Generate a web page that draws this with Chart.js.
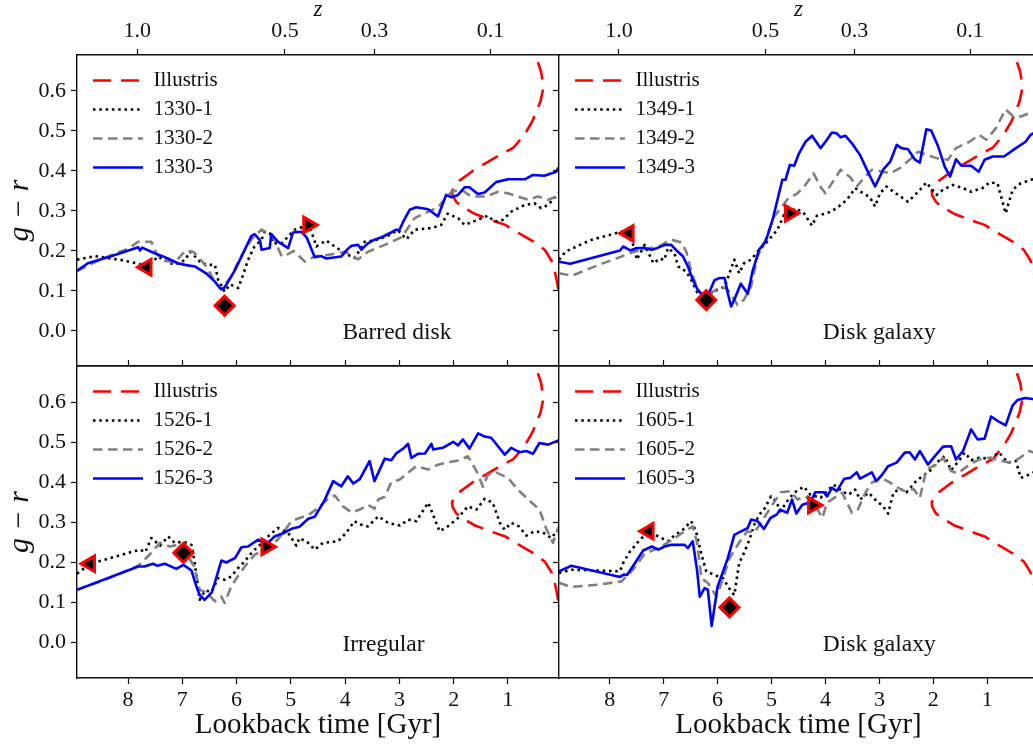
<!DOCTYPE html>
<html>
<head>
<meta charset="utf-8">
<title>g - r colour vs lookback time</title>
<script src="https://cdn.jsdelivr.net/npm/chart.js@4.4.1/dist/chart.umd.min.js"></script>
<style>
  html, body { margin: 0; padding: 0; background: #fff; }
  #wrap { position: relative; width: 1033px; height: 744px; overflow: hidden; background: #fff; }
  #wrap canvas { position: absolute; left: 0; top: 0; }
</style>
</head>
<body>
<div id="wrap">
  <canvas id="c1330" width="1050" height="744"></canvas>
  <canvas id="c1349" width="1050" height="744"></canvas>
  <canvas id="c1526" width="1050" height="744"></canvas>
  <canvas id="c1605" width="1050" height="744"></canvas>
</div>
<script>
// ---- axis ticks ----
const lookbackTicks = [8, 7, 6, 5, 4, 3, 2, 1];
const colourTicks = [0, 0.1, 0.2, 0.3, 0.4, 0.5, 0.6];
const redshiftAt = [7.83, 5.11, 3.46, 1.32];     // lookback time [Gyr] of each z tick
const redshiftText = ['1.0', '0.5', '0.3', '0.1'];

// ---- Illustris reference contour (same in every panel) ----
const illustris = [
  [0.45, 0.672], [0.39, 0.648], [0.36, 0.622], [0.36, 0.600], [0.40, 0.575], [0.47, 0.550],
  [0.56, 0.522], [0.70, 0.490], [0.90, 0.458], [1.15, 0.440], [1.40, 0.420], [1.60, 0.405],
  [1.75, 0.390], [1.90, 0.375], [1.99, 0.362], [2.03, 0.350], [2.02, 0.338], [1.95, 0.322],
  [1.85, 0.311], [1.62, 0.293], [1.33, 0.278], [1.05, 0.265], [0.81, 0.245], [0.53, 0.223],
  [0.32, 0.202], [0.20, 0.176], [0.14, 0.150], [0.10, 0.125], [0.07, 0.100]
];

// ---- 1330 (barred disk) ----
const g1330_1 = [
  [8.94, 0.178], [8.61, 0.187], [8.12, 0.177], [7.84, 0.169], [7.66, 0.160], [7.54, 0.173], [7.45, 0.186],
  [7.32, 0.176], [7.14, 0.165], [6.95, 0.177], [6.86, 0.198], [6.78, 0.188], [6.65, 0.169], [6.49, 0.165],
  [6.40, 0.165], [6.34, 0.128], [6.22, 0.098], [6.12, 0.116], [5.97, 0.107], [5.88, 0.140], [5.79, 0.177],
  [5.67, 0.211], [5.54, 0.228], [5.48, 0.248], [5.39, 0.244], [5.33, 0.219], [5.17, 0.219], [5.05, 0.236],
  [4.93, 0.253], [4.84, 0.257], [4.70, 0.265], [4.62, 0.248], [4.53, 0.211], [4.35, 0.226], [4.19, 0.211],
  [4.01, 0.194], [3.82, 0.182], [3.64, 0.223], [3.46, 0.226], [3.21, 0.238], [3.03, 0.252], [2.87, 0.229],
  [2.72, 0.253], [2.41, 0.257], [2.23, 0.265], [2.11, 0.293], [1.92, 0.282], [1.80, 0.265], [1.55, 0.278],
  [1.37, 0.288], [1.25, 0.273], [1.09, 0.278], [0.94, 0.298], [0.69, 0.315], [0.51, 0.319], [0.39, 0.307],
  [0.26, 0.315], [0.06, 0.345]
];
const g1330_2 = [
  [8.94, 0.150], [8.60, 0.172], [8.30, 0.190], [8.00, 0.205], [7.81, 0.223], [7.57, 0.223], [7.48, 0.194],
  [7.38, 0.178], [7.14, 0.170], [6.95, 0.200], [6.80, 0.198], [6.68, 0.181], [6.56, 0.161], [6.40, 0.123],
  [6.28, 0.103], [6.10, 0.136], [5.92, 0.186], [5.73, 0.228], [5.54, 0.253], [5.42, 0.244], [5.30, 0.228],
  [5.17, 0.186], [5.05, 0.192], [4.95, 0.200], [4.74, 0.173], [4.56, 0.186], [4.31, 0.190], [4.00, 0.198],
  [3.76, 0.179], [3.58, 0.198], [3.27, 0.215], [2.96, 0.234], [2.72, 0.282], [2.47, 0.298], [2.29, 0.309],
  [2.04, 0.348], [1.86, 0.353], [1.68, 0.336], [1.40, 0.336], [1.18, 0.348], [1.00, 0.344], [0.63, 0.328],
  [0.45, 0.336], [0.26, 0.328], [0.06, 0.338]
];
const g1330_3 = [
  [8.94, 0.150], [8.74, 0.169], [8.30, 0.187], [7.81, 0.209], [7.78, 0.201], [7.74, 0.208], [7.51, 0.194],
  [7.32, 0.184], [7.08, 0.169], [6.95, 0.165], [6.77, 0.161], [6.56, 0.144], [6.40, 0.123], [6.31, 0.107],
  [6.25, 0.104], [6.19, 0.115], [6.03, 0.152], [5.88, 0.194], [5.73, 0.237], [5.67, 0.242], [5.57, 0.227],
  [5.54, 0.203], [5.39, 0.207], [5.36, 0.242], [5.24, 0.223], [5.05, 0.207], [4.96, 0.246], [4.81, 0.248],
  [4.71, 0.234], [4.56, 0.184], [4.44, 0.187], [4.35, 0.181], [4.07, 0.186], [3.95, 0.205], [3.88, 0.213],
  [3.76, 0.215], [3.70, 0.203], [3.58, 0.219], [3.46, 0.228], [3.33, 0.234], [3.15, 0.246], [3.06, 0.253],
  [3.00, 0.252], [2.93, 0.273], [2.81, 0.303], [2.69, 0.309], [2.47, 0.304], [2.29, 0.286], [2.14, 0.340],
  [2.04, 0.334], [1.92, 0.340], [1.80, 0.359], [1.71, 0.359], [1.55, 0.342], [1.43, 0.346], [1.22, 0.372],
  [1.00, 0.379], [0.69, 0.379], [0.54, 0.390], [0.33, 0.388], [0.11, 0.398], [0.06, 0.410]
];
const marks1330 = [[7.66, 0.159], [6.22, 0.063], [4.68, 0.265]];

// ---- 1349 (disk galaxy) ----
const g1349_1 = [
  [8.94, 0.178], [8.82, 0.198], [8.55, 0.215], [8.33, 0.228], [7.78, 0.248], [7.65, 0.244], [7.53, 0.203],
  [7.50, 0.178], [7.35, 0.215], [7.19, 0.169], [7.07, 0.181], [6.99, 0.177], [6.92, 0.207], [6.80, 0.194],
  [6.73, 0.161], [6.58, 0.148], [6.49, 0.128], [6.37, 0.094], [6.27, 0.061], [6.12, 0.094], [6.00, 0.103],
  [5.87, 0.110], [5.78, 0.144], [5.69, 0.178], [5.60, 0.144], [5.51, 0.169], [5.38, 0.178], [5.26, 0.198],
  [5.08, 0.223], [4.89, 0.253], [4.77, 0.290], [4.66, 0.294], [4.55, 0.307], [4.40, 0.294], [4.25, 0.263],
  [4.16, 0.288], [3.97, 0.294], [3.79, 0.307], [3.60, 0.328], [3.45, 0.357], [3.30, 0.344], [3.18, 0.335],
  [3.08, 0.311], [2.99, 0.344], [2.87, 0.361], [2.74, 0.348], [2.47, 0.323], [2.28, 0.348], [2.13, 0.371],
  [1.94, 0.340], [1.82, 0.353], [1.64, 0.365], [1.45, 0.357], [1.30, 0.348], [1.09, 0.357], [0.96, 0.371],
  [0.81, 0.369], [0.66, 0.294], [0.53, 0.353], [0.38, 0.369], [0.19, 0.378], [0.06, 0.382]
];
const g1349_2 = [
  [8.94, 0.144], [8.70, 0.138], [8.20, 0.165], [7.78, 0.186], [7.59, 0.196], [7.35, 0.205], [7.10, 0.210],
  [6.86, 0.228], [6.67, 0.221], [6.58, 0.198], [6.49, 0.150], [6.37, 0.103], [6.24, 0.086], [6.06, 0.100],
  [5.93, 0.111], [5.81, 0.103], [5.63, 0.065], [5.51, 0.078], [5.38, 0.111], [5.26, 0.186], [5.11, 0.228],
  [4.95, 0.286], [4.71, 0.328], [4.52, 0.344], [4.40, 0.360], [4.22, 0.394], [4.09, 0.360], [4.00, 0.344],
  [3.90, 0.365], [3.72, 0.403], [3.54, 0.384], [3.42, 0.361], [3.27, 0.385], [3.14, 0.403], [3.00, 0.400],
  [2.80, 0.394], [2.62, 0.407], [2.44, 0.428], [2.28, 0.448], [2.13, 0.440], [1.94, 0.432], [1.73, 0.428],
  [1.58, 0.457], [1.33, 0.473], [1.15, 0.490], [1.02, 0.478], [0.84, 0.507], [0.66, 0.554], [0.53, 0.538],
  [0.38, 0.536], [0.23, 0.544], [0.06, 0.540]
];
const g1349_3 = [
  [8.94, 0.173], [8.73, 0.168], [7.81, 0.201], [7.75, 0.211], [7.62, 0.201], [7.50, 0.207], [7.37, 0.207],
  [7.22, 0.203], [7.10, 0.208], [6.98, 0.215], [6.86, 0.215], [6.76, 0.201], [6.64, 0.186], [6.55, 0.161],
  [6.46, 0.128], [6.37, 0.103], [6.24, 0.082], [6.15, 0.098], [6.06, 0.126], [5.97, 0.132], [5.87, 0.132],
  [5.81, 0.094], [5.75, 0.061], [5.69, 0.078], [5.57, 0.118], [5.44, 0.093], [5.35, 0.150], [5.23, 0.203],
  [5.11, 0.223], [4.98, 0.278], [4.80, 0.378], [4.74, 0.378], [4.66, 0.415], [4.58, 0.413], [4.49, 0.444],
  [4.37, 0.473], [4.25, 0.488], [4.09, 0.457], [4.00, 0.473], [3.88, 0.496], [3.79, 0.494], [3.72, 0.484],
  [3.63, 0.488], [3.51, 0.469], [3.36, 0.440], [3.20, 0.394], [3.08, 0.361], [2.93, 0.403], [2.80, 0.423],
  [2.68, 0.465], [2.59, 0.457], [2.47, 0.454], [2.34, 0.428], [2.25, 0.421], [2.13, 0.504], [2.04, 0.501],
  [1.91, 0.461], [1.79, 0.411], [1.69, 0.386], [1.58, 0.429], [1.48, 0.413], [1.30, 0.413], [1.16, 0.398],
  [1.05, 0.428], [0.90, 0.436], [0.69, 0.436], [0.47, 0.457], [0.29, 0.473], [0.20, 0.490], [0.06, 0.500]
];
const marks1349 = [[7.65, 0.244], [6.21, 0.077], [4.66, 0.294]];

// ---- 1526 (irregular) ----
const g1526_1 = [
  [8.94, 0.172], [8.70, 0.197], [8.43, 0.207], [8.10, 0.220], [7.78, 0.232], [7.68, 0.226], [7.57, 0.261],
  [7.41, 0.242], [7.26, 0.265], [7.14, 0.249], [6.98, 0.252], [6.83, 0.244], [6.77, 0.198], [6.68, 0.107],
  [6.58, 0.130], [6.46, 0.127], [6.34, 0.161], [6.22, 0.157], [6.10, 0.165], [5.98, 0.185], [5.85, 0.203],
  [5.70, 0.228], [5.56, 0.245], [5.42, 0.265], [5.24, 0.286], [5.05, 0.274], [4.90, 0.242], [4.84, 0.261],
  [4.68, 0.249], [4.56, 0.232], [4.41, 0.249], [4.13, 0.253], [3.98, 0.274], [3.83, 0.303], [3.70, 0.294],
  [3.58, 0.290], [3.39, 0.315], [3.21, 0.299], [2.99, 0.292], [2.84, 0.307], [2.69, 0.303], [2.47, 0.349],
  [2.26, 0.278], [2.11, 0.290], [1.92, 0.311], [1.74, 0.340], [1.58, 0.332], [1.43, 0.359], [1.28, 0.349],
  [1.15, 0.299], [1.06, 0.282], [0.94, 0.299], [0.80, 0.290], [0.66, 0.267], [0.51, 0.278], [0.36, 0.275],
  [0.20, 0.261], [0.06, 0.285]
];
const g1526_2 = [
  [8.94, 0.132], [8.40, 0.158], [7.81, 0.192], [7.60, 0.220], [7.41, 0.249], [7.23, 0.240], [7.05, 0.245],
  [6.89, 0.215], [6.78, 0.190], [6.68, 0.132], [6.55, 0.125], [6.40, 0.103], [6.28, 0.115], [6.22, 0.099],
  [6.10, 0.140], [5.98, 0.165], [5.85, 0.190], [5.67, 0.219], [5.48, 0.232], [5.24, 0.257], [4.99, 0.303],
  [4.84, 0.311], [4.68, 0.318], [4.50, 0.336], [4.31, 0.359], [4.19, 0.367], [4.04, 0.340], [3.88, 0.325],
  [3.73, 0.332], [3.58, 0.344], [3.46, 0.334], [3.39, 0.357], [3.27, 0.364], [3.15, 0.400], [2.99, 0.407],
  [2.84, 0.424], [2.69, 0.440], [2.47, 0.432], [2.29, 0.444], [2.11, 0.450], [1.89, 0.455], [1.74, 0.465],
  [1.58, 0.428], [1.46, 0.389], [1.37, 0.419], [1.21, 0.424], [1.00, 0.411], [0.82, 0.382], [0.63, 0.357],
  [0.42, 0.332], [0.30, 0.286], [0.17, 0.249], [0.06, 0.290]
];
const g1526_3 = [
  [8.94, 0.132], [7.81, 0.190], [7.70, 0.190], [7.54, 0.197], [7.46, 0.192], [7.32, 0.197], [7.11, 0.184],
  [6.98, 0.194], [6.83, 0.180], [6.74, 0.140], [6.68, 0.119], [6.59, 0.107], [6.46, 0.125], [6.40, 0.150],
  [6.28, 0.205], [6.19, 0.200], [6.03, 0.211], [5.91, 0.238], [5.79, 0.240], [5.60, 0.257], [5.45, 0.245],
  [5.30, 0.265], [5.11, 0.275], [4.99, 0.284], [4.84, 0.289], [4.68, 0.309], [4.56, 0.314], [4.38, 0.355],
  [4.22, 0.403], [4.07, 0.390], [3.95, 0.415], [3.85, 0.397], [3.73, 0.408], [3.55, 0.453], [3.46, 0.403],
  [3.27, 0.459], [3.15, 0.455], [3.06, 0.472], [2.93, 0.484], [2.84, 0.496], [2.78, 0.461], [2.66, 0.471],
  [2.53, 0.472], [2.41, 0.496], [2.38, 0.482], [2.20, 0.486], [2.01, 0.501], [1.92, 0.492], [1.83, 0.507],
  [1.71, 0.484], [1.55, 0.522], [1.43, 0.514], [1.31, 0.511], [1.06, 0.469], [0.94, 0.486], [0.79, 0.475],
  [0.66, 0.478], [0.54, 0.471], [0.42, 0.498], [0.26, 0.494], [0.06, 0.505]
];
const marks1526 = [[8.70, 0.197], [6.98, 0.224], [5.45, 0.239]];

// ---- 1605 (disk galaxy) ----
const g1605_1 = [
  [8.94, 0.174], [8.70, 0.182], [8.20, 0.180], [7.81, 0.178], [7.75, 0.199], [7.62, 0.228], [7.45, 0.255],
  [7.28, 0.278], [7.10, 0.265], [6.92, 0.253], [6.82, 0.265], [6.64, 0.282], [6.49, 0.303], [6.40, 0.278],
  [6.30, 0.220], [6.21, 0.178], [6.06, 0.169], [5.90, 0.161], [5.75, 0.128], [5.69, 0.119], [5.60, 0.199],
  [5.51, 0.224], [5.41, 0.257], [5.32, 0.294], [5.23, 0.319], [5.14, 0.332], [5.01, 0.365], [4.92, 0.353],
  [4.83, 0.328], [4.70, 0.355], [4.58, 0.374], [4.40, 0.389], [4.28, 0.369], [4.09, 0.361], [3.97, 0.378],
  [3.85, 0.394], [3.69, 0.378], [3.57, 0.369], [3.45, 0.382], [3.36, 0.357], [3.20, 0.374], [3.05, 0.353],
  [2.93, 0.340], [2.84, 0.322], [2.74, 0.374], [2.62, 0.384], [2.50, 0.375], [2.34, 0.400], [2.19, 0.417],
  [2.07, 0.428], [1.94, 0.449], [1.79, 0.465], [1.67, 0.430], [1.52, 0.455], [1.42, 0.474], [1.30, 0.455],
  [1.15, 0.461], [0.96, 0.459], [0.78, 0.474], [0.62, 0.449], [0.47, 0.453], [0.38, 0.411], [0.23, 0.419],
  [0.06, 0.430]
];
const g1605_2 = [
  [8.94, 0.150], [8.73, 0.139], [8.20, 0.145], [7.78, 0.153], [7.55, 0.185], [7.35, 0.222], [7.10, 0.236],
  [6.86, 0.255], [6.61, 0.278], [6.46, 0.290], [6.38, 0.250], [6.30, 0.161], [6.18, 0.149], [6.02, 0.115],
  [5.90, 0.160], [5.78, 0.210], [5.60, 0.250], [5.45, 0.278], [5.32, 0.274], [5.14, 0.311], [4.98, 0.345],
  [4.83, 0.375], [4.65, 0.378], [4.52, 0.357], [4.38, 0.365], [4.22, 0.349], [4.06, 0.311], [3.97, 0.349],
  [3.85, 0.360], [3.69, 0.374], [3.51, 0.324], [3.40, 0.332], [3.26, 0.374], [3.14, 0.399], [2.96, 0.411],
  [2.80, 0.399], [2.65, 0.386], [2.53, 0.378], [2.37, 0.384], [2.25, 0.361], [2.13, 0.432], [1.94, 0.444],
  [1.82, 0.461], [1.67, 0.428], [1.55, 0.422], [1.33, 0.444], [1.15, 0.457], [0.96, 0.461], [0.78, 0.455],
  [0.59, 0.449], [0.44, 0.457], [0.22, 0.478], [0.06, 0.470]
];
const g1605_3 = [
  [8.94, 0.178], [8.71, 0.192], [7.81, 0.164], [7.74, 0.170], [7.68, 0.169], [7.53, 0.199], [7.38, 0.230],
  [7.22, 0.240], [7.10, 0.232], [6.98, 0.240], [6.86, 0.244], [6.61, 0.244], [6.55, 0.236], [6.46, 0.253],
  [6.38, 0.180], [6.33, 0.115], [6.24, 0.136], [6.18, 0.132], [6.11, 0.042], [6.00, 0.140], [5.81, 0.211],
  [5.69, 0.269], [5.60, 0.275], [5.44, 0.286], [5.38, 0.307], [5.26, 0.303], [5.14, 0.284], [5.02, 0.311],
  [4.90, 0.320], [4.84, 0.332], [4.71, 0.324], [4.62, 0.357], [4.54, 0.322], [4.43, 0.344], [4.28, 0.350],
  [4.19, 0.375], [4.03, 0.375], [3.97, 0.365], [3.88, 0.386], [3.79, 0.378], [3.65, 0.409], [3.54, 0.411],
  [3.42, 0.425], [3.36, 0.409], [3.14, 0.425], [3.06, 0.403], [2.96, 0.417], [2.84, 0.440], [2.68, 0.449],
  [2.53, 0.474], [2.44, 0.475], [2.34, 0.457], [2.25, 0.478], [2.10, 0.444], [1.98, 0.464], [1.82, 0.489],
  [1.67, 0.490], [1.58, 0.457], [1.45, 0.478], [1.30, 0.532], [1.18, 0.507], [1.05, 0.509], [0.93, 0.564],
  [0.81, 0.553], [0.66, 0.542], [0.53, 0.592], [0.44, 0.605], [0.30, 0.610], [0.06, 0.606]
];
const marks1605 = [[7.28, 0.278], [5.78, 0.088], [4.23, 0.343]];

// where the panel caption sits (lookback time, colour)
const noteAt = [4.05, -0.006];

// ---- plotting ----
const T_MIN = 0.06, T_MAX = 8.94;
const G_MIN = -0.088, G_MAX = 0.69;
const FONT = "'Liberation Serif', 'Times New Roman', serif";
const INK = '#111';

// marker shapes: early triangle, diamond, late triangle
const markShape = ['triangle', 'rectRot', 'triangle'];
const markTurn = [-90, 0, 90];
const markSize = [9, 9.5, 9];

function xy(pts) {
  return pts.map(p => ({ x: p[0], y: p[1] }));
}

function curve(label, pts, color, dash, order) {
  return {
    label: label,
    data: xy(pts),
    borderColor: color,
    backgroundColor: color,
    borderWidth: 2.6,
    borderDash: dash,
    borderJoinStyle: 'round',
    pointRadius: 0,
    tension: 0,
    order: order
  };
}

// legend entries as short line samples carrying each curve's own dash
function lineSamples(chart) {
  return chart.data.datasets
    .map((ds, i) => ({
      text: ds.label,
      datasetIndex: i,
      fillStyle: ds.borderColor,
      strokeStyle: ds.borderColor,
      lineWidth: ds.borderWidth,
      lineDash: ds.borderDash,
      lineCap: 'butt',
      pointStyle: 'line',
      fontColor: INK,
      hidden: false
    }))
    .filter(item => item.text !== '');
}

function tickMarks(len) {
  return { drawOnChartArea: false, drawTicks: len > 0, tickLength: len, tickWidth: 1.2, tickColor: INK };
}

const frame = { display: true, color: INK, width: 1.4 };

// caption text inside each panel
const panelNote = {
  id: 'panelNote',
  afterDatasetsDraw(chart, args, opts) {
    const ctx = chart.ctx;
    const x = chart.scales.x.getPixelForValue(noteAt[0]);
    const y = chart.scales.y.getPixelForValue(noteAt[1]);
    ctx.save();
    ctx.font = '23.5px ' + FONT;
    ctx.fillStyle = INK;
    ctx.textAlign = 'left';
    ctx.textBaseline = 'middle';
    ctx.fillText(opts.text, x, y);
    ctx.restore();
  }
};

// pin the legend to the upper-left corner of its own panel
const legendPin = {
  id: 'legendPin',
  afterLayout(chart) {
    const lg = chart.legend;
    if (!lg) return;
    const area = chart.chartArea;
    lg.left = area.left + 8;
    lg.top = area.top + 7;
    lg.right = lg.left + lg.width;
    lg.bottom = lg.top + lg.height;
  }
};

function panelChart(id, p) {
  const onLeft = p.col === 0;
  const onTop = p.row === 0;

  const datasets = [
    curve('Illustris', illustris, '#ff0000', [18, 10], 4),
    curve(p.names[0], p.series[0], '#000000', [2.5, 3.8], 3),
    curve(p.names[1], p.series[1], '#808080', [9.5, 5.5], 2),
    curve(p.names[2], p.series[2], '#0000ff', [], 1),
    {
      label: '',
      data: xy(p.marks),
      showLine: false,
      order: 0,
      pointStyle: markShape,
      pointRotation: markTurn,
      pointRadius: markSize,
      pointBackgroundColor: '#000000',
      pointBorderColor: '#ff0000',
      pointBorderWidth: 3
    }
  ];

  const scales = {
    x: {
      type: 'linear', position: 'bottom', reverse: true, min: T_MIN, max: T_MAX,
      afterBuildTicks: s => { s.ticks = lookbackTicks.map(v => ({ value: v })); },
      ticks: {
        display: !onTop, autoSkip: false, maxRotation: 0, padding: 3,
        callback: v => String(v), font: { family: FONT, size: 22 }, color: INK
      },
      grid: tickMarks(onTop ? 0 : 6),
      border: frame,
      title: {
        display: !onTop, text: 'Lookback time [Gyr]', color: INK,
        font: { family: FONT, size: 29 }, padding: { top: 0, bottom: 1 }
      },
      afterFit: s => { s.height = onTop ? 0 : 66; }
    },
    y: {
      min: G_MIN, max: G_MAX,
      afterBuildTicks: s => { s.ticks = colourTicks.map(v => ({ value: v })); },
      ticks: {
        display: onLeft, padding: 5, callback: v => Number(v).toFixed(1),
        font: { family: FONT, size: 22 }, color: INK
      },
      grid: tickMarks(6),
      border: frame,
      title: {
        display: onLeft, text: 'g \u2212 r', color: INK,
        font: { family: FONT, size: 30, style: 'italic' }, padding: { top: 2, bottom: 0 }
      },
      afterFit: s => { s.width = onLeft ? 77 : 7; }
    }
  };

  if (onTop) {
    // redshift axis along the top of the upper panels
    scales.xz = {
      type: 'linear', position: 'top', reverse: true, min: T_MIN, max: T_MAX,
      afterBuildTicks: s => { s.ticks = redshiftAt.map(v => ({ value: v })); },
      ticks: {
        autoSkip: false, maxRotation: 0, padding: 5,
        callback: v => redshiftText[redshiftAt.indexOf(v)],
        font: { family: FONT, size: 22 }, color: INK
      },
      grid: tickMarks(6),
      border: frame,
      title: {
        display: true, text: 'z', color: INK,
        font: { family: FONT, size: 23, style: 'italic', lineHeight: 0.8 }, padding: { top: 1, bottom: 0 }
      },
      afterFit: s => { s.height = 55; }
    };
  } else {
    // tick marks poking up into the panel above
    scales.xt = {
      type: 'linear', position: 'top', reverse: true, min: T_MIN, max: T_MAX,
      afterBuildTicks: s => { s.ticks = lookbackTicks.map(v => ({ value: v })); },
      ticks: { display: false },
      grid: tickMarks(6),
      border: frame,
      afterFit: s => { s.height = 0; }
    };
  }

  return new Chart(document.getElementById(id), {
    type: 'line',
    data: { datasets: datasets },
    options: {
      responsive: false,
      animation: false,
      devicePixelRatio: 1,
      events: [],
      layout: {
        padding: {
          left: onLeft ? 0 : 552,
          right: onLeft ? 491 : 9,
          top: onTop ? 0 : 366,
          bottom: onTop ? 378 : 0
        }
      },
      scales: scales,
      plugins: {
        legend: {
          position: 'chartArea',
          align: 'start',
          labels: {
            usePointStyle: true,
            pointStyleWidth: 50,
            padding: 8,
            color: INK,
            font: { family: FONT, size: 21 },
            generateLabels: lineSamples
          }
        },
        tooltip: { enabled: false },
        panelNote: { text: p.note }
      }
    },
    plugins: [panelNote, legendPin]
  });
}

panelChart('c1330', {
  row: 0, col: 0, note: 'Barred disk', marks: marks1330,
  names: ['1330-1', '1330-2', '1330-3'], series: [g1330_1, g1330_2, g1330_3]
});
panelChart('c1349', {
  row: 0, col: 1, note: 'Disk galaxy', marks: marks1349,
  names: ['1349-1', '1349-2', '1349-3'], series: [g1349_1, g1349_2, g1349_3]
});
panelChart('c1526', {
  row: 1, col: 0, note: 'Irregular', marks: marks1526,
  names: ['1526-1', '1526-2', '1526-3'], series: [g1526_1, g1526_2, g1526_3]
});
panelChart('c1605', {
  row: 1, col: 1, note: 'Disk galaxy', marks: marks1605,
  names: ['1605-1', '1605-2', '1605-3'], series: [g1605_1, g1605_2, g1605_3]
});
</script>
</body>
</html>
